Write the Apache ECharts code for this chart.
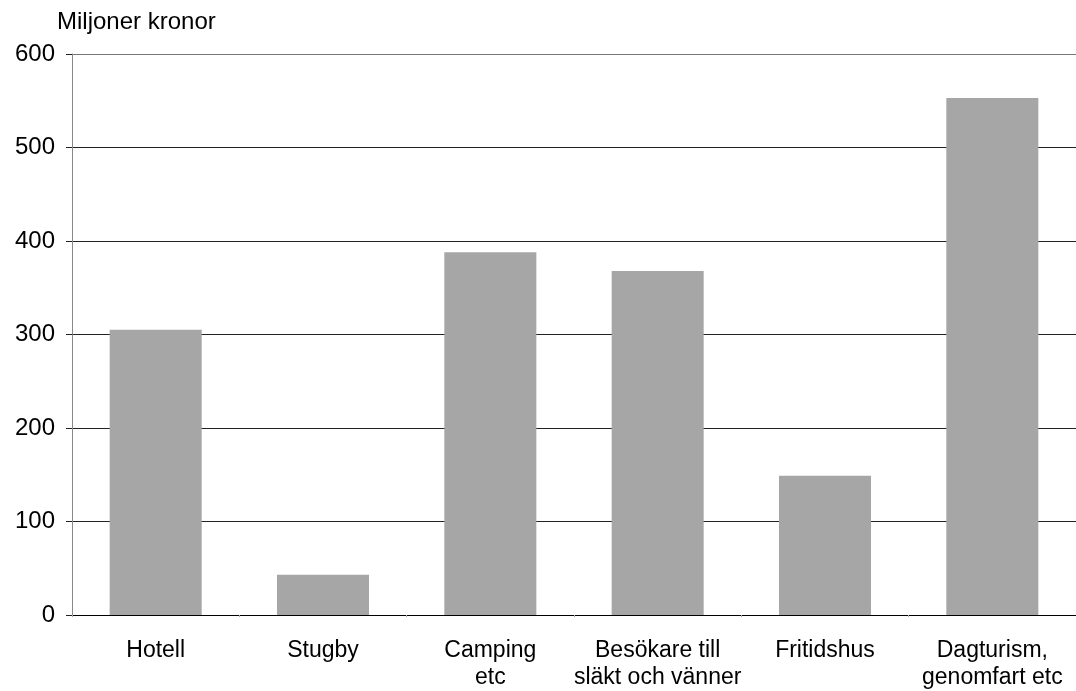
<!DOCTYPE html>
<html>
<head>
<meta charset="utf-8">
<script src="https://cdn.jsdelivr.net/npm/echarts@6/dist/echarts.min.js"></script>
<style>html,body{margin:0;padding:0;background:#fff;}#c{width:1076px;height:691px;}</style>
</head>
<body>
<div id="c"></div>
<script>
const categories = ['Hotell', 'Stugby', 'Camping\netc', 'Besökare till\nsläkt och vänner', 'Fritidshus', 'Dagturism,\ngenomfart etc'];
const values = [305, 43, 388, 368, 149, 553];
const yTicks = [0, 100, 200, 300, 400, 500, 600];
const unitLabel = 'Miljoner kronor';

const chart = echarts.init(document.getElementById('c'), null, {renderer: 'canvas'});
const font = '"Liberation Sans", Arial, Helvetica, sans-serif';
chart.setOption({
  animation: false,
  backgroundColor: '#fff',
  graphic: [{
    type: 'text', left: 57, top: 10,
    style: {text: unitLabel, fontFamily: font, fontSize: 24, fill: '#000'}
  }],
  grid: {left: 72, top: 54, bottom: 76, width: 1011, containLabel: false},
  xAxis: {
    type: 'category',
    data: categories,
    axisLine: {show: true, lineStyle: {color: '#000', width: 1}},
    axisTick: {show: true, length: 2, lineStyle: {color: '#aaa'}},
    axisLabel: {fontFamily: font, fontSize: 23, color: '#000', lineHeight: 27, margin: 22, interval: 0}
  },
  yAxis: {
    type: 'value',
    min: yTicks[0], max: yTicks[yTicks.length - 1], interval: 100,
    axisLine: {show: true, lineStyle: {color: '#888', width: 1}},
    axisTick: {show: true, length: 6, lineStyle: {color: '#222'}},
    axisLabel: {fontFamily: font, fontSize: 24, color: '#000', margin: 17},
    splitLine: {show: true, lineStyle: {color: ['#222', '#222', '#222', '#222', '#222', '#222', '#777'], width: 1}}
  },
  series: [{
    type: 'bar',
    data: values,
    barWidth: '55%',
    itemStyle: {color: '#a6a6a6'}
  }]
});
</script>
</body>
</html>
